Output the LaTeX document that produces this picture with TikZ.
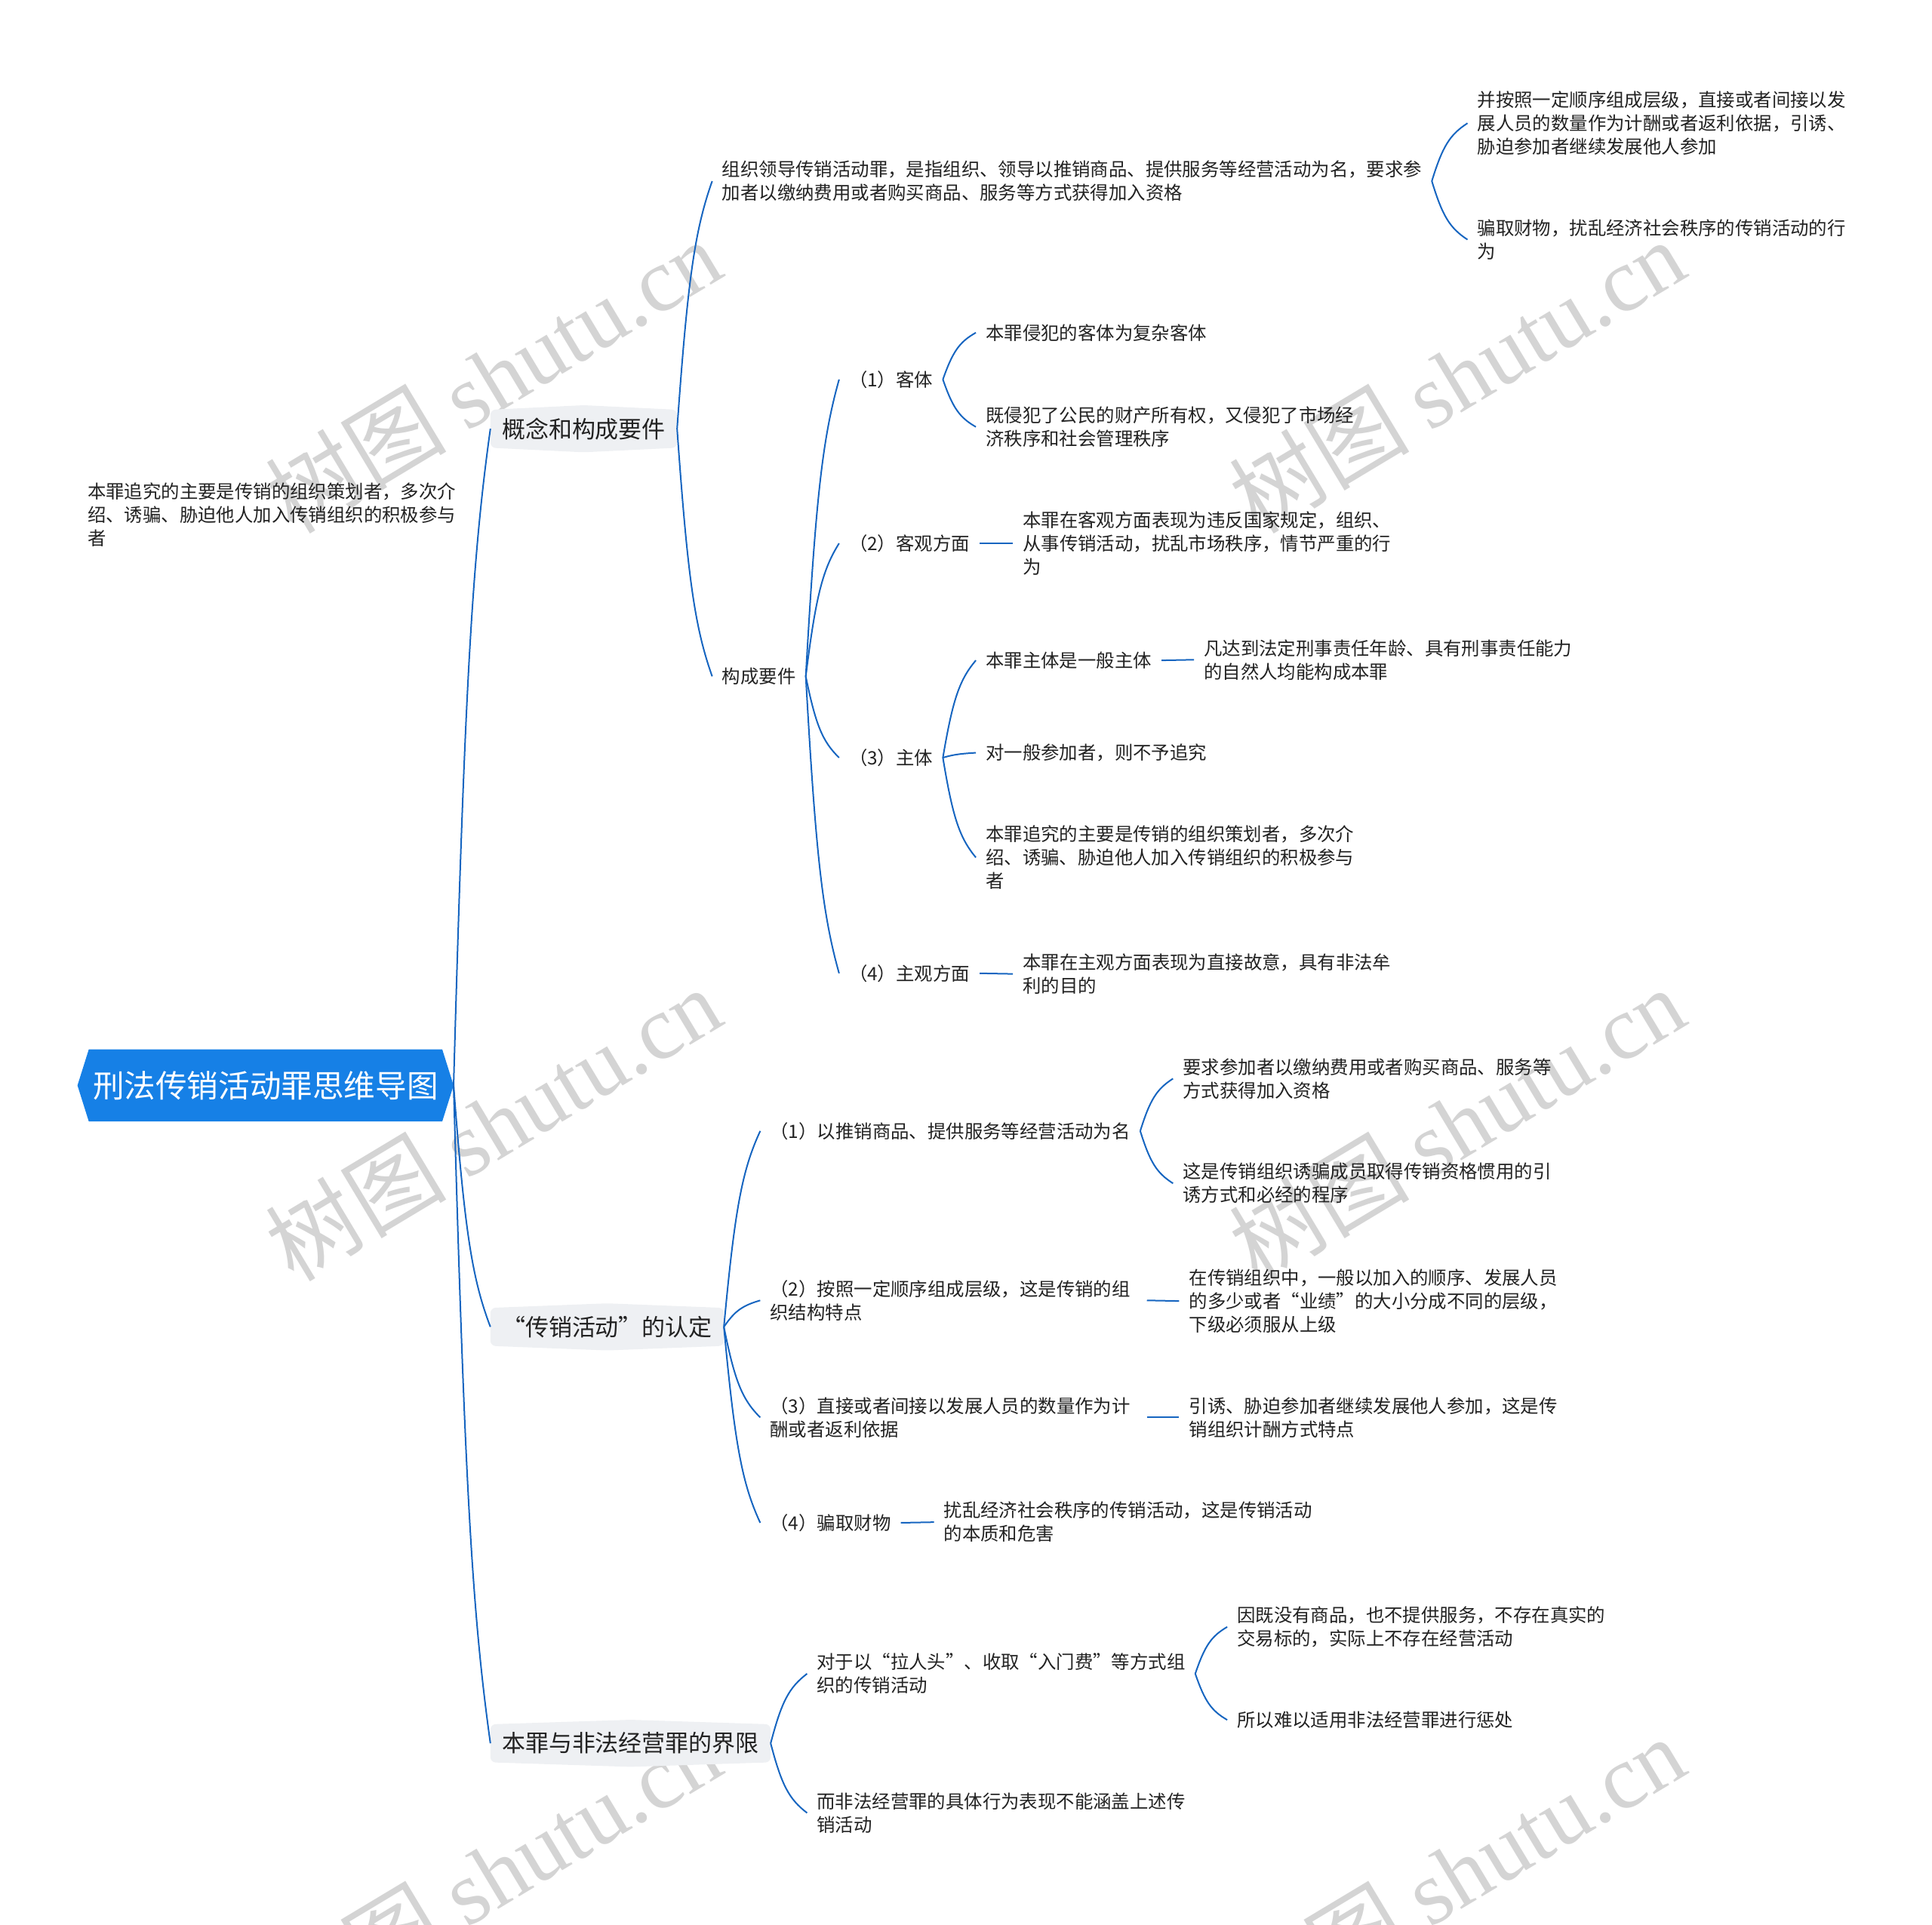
\documentclass[tikz,border=0pt]{standalone}
\usepackage{fontspec}
\setmainfont{Noto Sans CJK SC}
\newfontfamily\wmserif{Liberation Serif}
\usetikzlibrary{calc,backgrounds}
\definecolor{lineblue}{RGB}{22,101,192}
\definecolor{rootblue}{RGB}{22,128,230}
\definecolor{lvfill}{RGB}{238,240,243}
\definecolor{txt}{RGB}{34,34,34}
\definecolor{wmgray}{RGB}{212,212,212}
\tikzset{
  leaf/.style={anchor=west, inner xsep=13pt, inner ysep=0pt, align=left, text=txt, font=\fontsize{24.4}{31}\selectfont},
  lvone/.style={anchor=west, inner xsep=15pt, inner ysep=0pt, minimum height=62pt, text=txt, font=\fontsize{31}{36}\selectfont},
  rootn/.style={inner sep=0pt, minimum width=498pt, minimum height=95pt, text=white, font=\fontsize{41.6}{46}\selectfont},
  conn/.style={draw=lineblue, line width=2pt, to path={let \p1=(\tikztostart), \p2=(\tikztotarget) in .. controls ({\x1+0.3*(\x2-\x1)},{\y1+0.6*(\y2-\y1)}) and ({\x2-0.5*(\x2-\x1)},{\y2-0.2*(\y2-\y1)}) .. (\tikztotarget)}},
  dashln/.style={draw=lineblue, line width=2pt},
  wm/.style={text=wmgray, rotate=31, inner sep=0pt, font=\fontsize{120}{120}\selectfont}
}
\begin{document}
\begin{tikzpicture}[x=1.6327pt,y=-1.6327pt]
\useasboundingbox (0,0) rectangle (1568,1562);

% watermarks
\begin{scope}[on background layer]
\node[wm] (w1) at (400,305) {树图 {\wmserif shutu.cn}};
\node[wm] (w2) at (1182,305) {树图 {\wmserif shutu.cn}};
\node[wm] (w3) at (400,912) {树图 {\wmserif shutu.cn}};
\node[wm] (w4) at (1182,912) {树图 {\wmserif shutu.cn}};
\node[wm] (w5) at (400,1520) {树图 {\wmserif shutu.cn}};
\node[wm] (w6) at (1182,1520) {树图 {\wmserif shutu.cn}};
\end{scope}

% root
\node[rootn] (root) at (215.5,881) {刑法传销活动罪思维导图};

% free text
\node[leaf] (F) at (63,418) {本罪追究的主要是传销的组织策划者，多次介\\绍、诱骗、胁迫他人加入传销组织的积极参与\\者};

% level one
\node[lvone] (A) at (398,348) {概念和构成要件};
\node[lvone] (B) at (398,1077) {“传销活动”的认定};
\node[lvone] (C) at (398,1415) {本罪与非法经营罪的界限};

% branch A
\node[leaf] (A1) at (578,147) {组织领导传销活动罪，是指组织、领导以推销商品、提供服务等经营活动为名，要求参\\加者以缴纳费用或者购买商品、服务等方式获得加入资格};
\node[leaf] (A2) at (578,549) {构成要件};
\node[leaf] (A1a) at (1191,100) {并按照一定顺序组成层级，直接或者间接以发\\展人员的数量作为计酬或者返利依据，引诱、\\胁迫参加者继续发展他人参加};
\node[leaf] (A1b) at (1191,194.5) {骗取财物，扰乱经济社会秩序的传销活动的行\\为};
\node[leaf] (K1) at (681,308) {（1）客体};
\node[leaf] (K1a) at (792,270) {本罪侵犯的客体为复杂客体};
\node[leaf] (K1b) at (792,346.5) {既侵犯了公民的财产所有权，又侵犯了市场经\\济秩序和社会管理秩序};
\node[leaf] (K2) at (681,441) {（2）客观方面};
\node[leaf] (K2a) at (822,441) {本罪在客观方面表现为违反国家规定，组织、\\从事传销活动，扰乱市场秩序，情节严重的行\\为};
\node[leaf] (K3) at (681,615) {（3）主体};
\node[leaf] (K3a) at (792,536) {本罪主体是一般主体};
\node[leaf] (K3a1) at (969,535.5) {凡达到法定刑事责任年龄、具有刑事责任能力\\的自然人均能构成本罪};
\node[leaf] (K3b) at (792,611) {对一般参加者，则不予追究};
\node[leaf] (K3c) at (792,696) {本罪追究的主要是传销的组织策划者，多次介\\绍、诱骗、胁迫他人加入传销组织的积极参与\\者};
\node[leaf] (K4) at (681,790) {（4）主观方面};
\node[leaf] (K4a) at (822,790.5) {本罪在主观方面表现为直接故意，具有非法牟\\利的目的};

% branch B
\node[leaf] (B1) at (617,918) {（1）以推销商品、提供服务等经营活动为名};
\node[leaf] (B1a) at (952,875.5) {要求参加者以缴纳费用或者购买商品、服务等\\方式获得加入资格};
\node[leaf] (B1b) at (952,960.5) {这是传销组织诱骗成员取得传销资格惯用的引\\诱方式和必经的程序};
\node[leaf, text width=486pt] (B2) at (617,1055.5) {（2）按照一定顺序组成层级，这是传销的组\\织结构特点};
\node[leaf] (B2a) at (957,1056) {在传销组织中，一般以加入的顺序、发展人员\\的多少或者“业绩”的大小分成不同的层级，\\下级必须服从上级};
\node[leaf, text width=486pt] (B3) at (617,1150.5) {（3）直接或者间接以发展人员的数量作为计\\酬或者返利依据};
\node[leaf] (B3a) at (957,1150.5) {引诱、胁迫参加者继续发展他人参加，这是传\\销组织计酬方式特点};
\node[leaf] (B4) at (617,1236) {（4）骗取财物};
\node[leaf] (B4a) at (758,1235.5) {扰乱经济社会秩序的传销活动，这是传销活动\\的本质和危害};

% branch C
\node[leaf] (C1) at (655,1358.5) {对于以“拉人头”、收取“入门费”等方式组\\织的传销活动};
\node[leaf] (C1a) at (996,1320.5) {因既没有商品，也不提供服务，不存在真实的\\交易标的，实际上不存在经营活动};
\node[leaf] (C1b) at (996,1396) {所以难以适用非法经营罪进行惩处};
\node[leaf] (C2) at (655,1471.5) {而非法经营罪的具体行为表现不能涵盖上述传\\销活动};

% shapes behind nodes
\begin{scope}[on background layer]
\fill[rootblue] (root.west) -- ([xshift=15pt]root.north west) -- ([xshift=-15pt]root.north east) -- (root.east) -- ([xshift=-15pt]root.south east) -- ([xshift=15pt]root.south west) -- cycle;
\foreach \n in {A,B,C}{
  \fill[lvfill, rounded corners=7pt] ([yshift=-6pt]\n.north west) -- (\n.north) -- ([yshift=-6pt]\n.north east) -- ([yshift=6pt]\n.south east) -- (\n.south) -- ([yshift=6pt]\n.south west) -- cycle;
}
\end{scope}

% connectors
\draw[conn] (root.east) to (A.west);
\draw[conn] (root.east) to (B.west);
\draw[conn] (root.east) to (C.west);
\draw[conn] (A.east) to (A1.west);
\draw[conn] (A.east) to (A2.west);
\draw[conn] (A1.east) to (A1a.west);
\draw[conn] (A1.east) to (A1b.west);
\draw[conn] (A2.east) to (K1.west);
\draw[conn] (A2.east) to (K2.west);
\draw[conn] (A2.east) to (K3.west);
\draw[conn] (A2.east) to (K4.west);
\draw[conn] (K1.east) to (K1a.west);
\draw[conn] (K1.east) to (K1b.west);
\draw[dashln] (K2.east) -- (K2a.west);
\draw[conn] (K3.east) to (K3a.west);
\draw[conn] (K3.east) to (K3b.west);
\draw[conn] (K3.east) to (K3c.west);
\draw[dashln] (K3a.east) -- (K3a1.west);
\draw[dashln] (K4.east) -- (K4a.west);
\draw[conn] (B.east) to (B1.west);
\draw[conn] (B.east) to (B2.west);
\draw[conn] (B.east) to (B3.west);
\draw[conn] (B.east) to (B4.west);
\draw[conn] (B1.east) to (B1a.west);
\draw[conn] (B1.east) to (B1b.west);
\draw[dashln] (B2.east) -- (B2a.west);
\draw[dashln] (B3.east) -- (B3a.west);
\draw[dashln] (B4.east) -- (B4a.west);
\draw[conn] (C.east) to (C1.west);
\draw[conn] (C.east) to (C2.west);
\draw[conn] (C1.east) to (C1a.west);
\draw[conn] (C1.east) to (C1b.west);
\end{tikzpicture}
\end{document}
